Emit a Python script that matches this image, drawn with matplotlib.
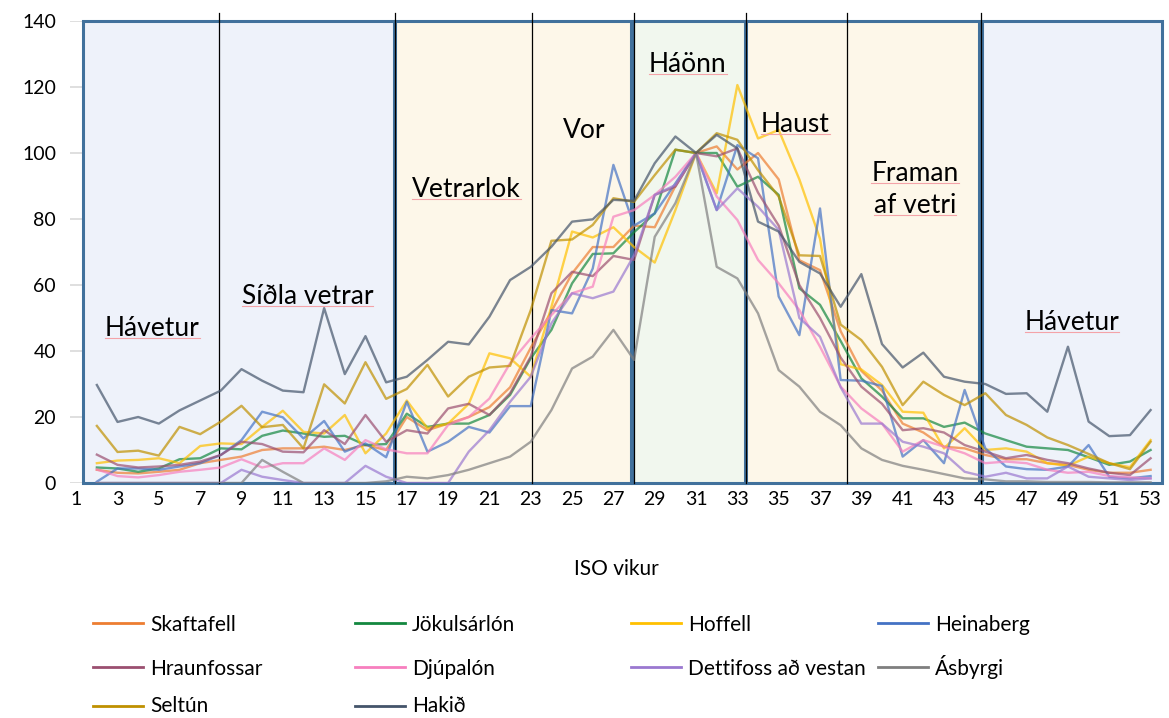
import matplotlib
matplotlib.use("Agg")
import matplotlib.pyplot as plt
from matplotlib.lines import Line2D
from matplotlib.patches import Rectangle
import numpy as np

# ─── Data (index: 100 = week 31) ─────────────────────────────────────────────
weeks = list(range(2, 54))

skaftafell = [4, 3.1, 2.9, 3.4, 4, 6, 7, 8, 10, 10.5, 10.5, 11, 10, 11.5, 10,
              20, 16, 18, 20, 23, 29, 41, 52, 63.5, 71.5, 71.5, 78,
              77.5, 90, 100, 102, 95, 100, 92, 67.5, 64.5, 46,
              34, 28, 18, 15.3, 11, 10.5, 8.5, 7.2, 7.2, 6, 5.5, 4, 3.1, 3.1, 4]
jokulsarlon = [4.7, 4.4, 3.4, 4.4, 7.2, 7.5, 10.5, 10.2, 14.3, 15.9, 15, 14, 14.3, 11.5, 11.8,
               21, 17, 18, 18, 20.6, 26.7, 37.8, 46.4, 60.5, 69.4, 69.6, 76,
               81.7, 101, 100, 100, 89.8, 92.8, 87.3, 59, 54, 43,
               31.7, 26.2, 19.6, 19.6, 17, 18.3, 15, 13, 11, 10.5, 10, 7.8, 5.5, 6.5, 10]
hoffell = [6, 6.8, 7, 7.5, 6, 11.2, 12, 11.8, 17, 21.9, 15.5, 15, 20.6, 9, 15,
           25, 16.6, 18, 24, 39.3, 37.8, 32.2, 53.4, 76.2, 74.4, 77.5, 71.5,
           66.8, 82.7, 100, 87.8, 120.6, 104.4, 107, 92, 74, 36,
           34.4, 29.7, 21.6, 21.3, 10.5, 16.6, 10, 10.5, 9.5, 6, 5.2, 8, 6, 4.8, 13]
heinaberg = [0.4, 4.4, 4.4, 4, 5, 6, 8.5, 13, 21.6, 19.9, 13.5, 18.8, 9.5, 12, 7.8,
             24.6, 9.5, 12.5, 17, 15.3, 23.3, 23.3, 52.4, 51.4, 65, 96.4, 78,
             81.7, 90.8, 100, 82.7, 102.4, 98.4, 56.5, 44.8, 83.2, 31.2,
             31, 29.4, 8, 13, 6, 28.2, 10.5, 5, 4.2, 4, 5, 11.5, 1.9, 1.4, 2.1]
hraunfossar = [8.6, 5.5, 4.7, 5, 5.5, 6.5, 8.5, 12.5, 11.8, 9.5, 9.3, 16, 11.8, 20.6, 12.5,
               16, 15, 22.6, 24, 20.6, 27.2, 38.3, 57.5, 64, 62.7, 68.8, 67.6,
               87.3, 89.8, 100, 99, 101.4, 88, 78, 60, 50, 38,
               29.2, 24, 16, 16.6, 15.3, 11.5, 9.5, 7.5, 8.5, 7, 6, 4.4, 3.1, 2.4, 7.5]
djupalon = [4.1, 2.1, 1.7, 2.4, 3.4, 4, 4.7, 7.2, 4.7, 6, 6, 10.5, 7, 13, 10.2,
            9, 9, 17.6, 20, 25.6, 36.3, 43.8, 50.9, 57.5, 59.5, 80.7, 82.7,
            87.3, 92.8, 100, 86.8, 79.7, 67.6, 60.5, 52.4, 41.3, 29.2,
            22.6, 18, 9.5, 13, 11, 9, 6, 6.5, 6, 4, 3.1, 3.4, 2.1, 1.7, 1.4]
dettifoss = [0, 0, 0, 0, 0, 0, 0, 4, 1.9, 0.9, 0, 0, 0, 5.2, 1.9,
             0, 0, 0, 9.5, 16, 24.6, 32.2, 48.4, 57.5, 56, 58, 69,
             87.3, 90.3, 100, 82.7, 89.3, 83.7, 76.7, 50, 44.3, 29,
             18, 18, 12.5, 11, 9, 3.4, 1.9, 3.1, 1.4, 1.4, 5, 1.9, 1.4, 0.9, 1.4]
asbyrgi = [0, 0, 0, 0, 0, 0, 0, 0, 7, 3.4, 0, 0, 0, 0, 0.5,
           1.9, 1.4, 2.4, 4, 6, 8, 12.5, 22.1, 34.7, 38.3, 46.4, 37.3,
           74.6, 84.8, 100, 65.5, 62, 51.4, 34.2, 29.2, 21.6, 17.5,
           10.5, 7, 5.2, 4, 2.7, 1.4, 1.1, 0.5, 0.5, 0.3, 0.3, 0.3, 0.2, 0.2, 0.2]
seltun = [17.3, 9.4, 9.8, 8.3, 17, 14.8, 18.6, 23.4, 16.9, 17.6, 10.5, 29.9, 24.1, 36.6, 25.5,
          28.5, 35.8, 26.2, 32.2, 35, 35.5, 52.4, 73.4, 73.8, 78.2, 86.3, 85.2,
          93.3, 101, 100, 106, 104, 94.8, 86.8, 69, 68.8, 48,
          43.3, 35.2, 23.6, 30.7, 26.7, 23.6, 27.2, 20.6, 17.6, 13.8, 11.5, 8.8, 6, 4.2, 12.5]
hakid = [29.7, 18.5, 20, 18, 22, 25, 28, 34.5, 31, 28, 27.5, 53, 33, 44.5, 30.5,
         32.2, 37.3, 42.8, 42, 50.4, 61.5, 65.5, 71.6, 79.2, 79.9, 85.8, 85.5,
         96.9, 105, 100, 105.5, 101.4, 79.2, 76.2, 67, 63.5, 53.4,
         63.3, 42.1, 35, 39.5, 32.2, 30.7, 30, 27, 27.2, 21.6, 41.3, 18.6, 14.2, 14.5, 22.1]

names = ["Skaftafell", "Jökulsárlón", "Hoffell", "Heinaberg", "Hraunfossar",
         "Djúpalón", "Dettifoss að vestan", "Ásbyrgi", "Seltún", "Hakið"]
series = [skaftafell, jokulsarlon, hoffell, heinaberg, hraunfossar,
          djupalon, dettifoss, asbyrgi, seltun, hakid]
colors = ["#ED7D31", "#13873F", "#FFC000", "#4472C4", "#9B4F70",
          "#F77FBE", "#9A78D0", "#7F7F7F", "#BF9000", "#44546A"]

# season periods: (start week, end week, fill colour)
periods = [(1.35, 16.38, "#EEF2FA"), (16.43, 27.84, "#FDF7E9"), (27.9, 33.37, "#F1F7EE"),
           (33.44, 44.69, "#FDF7E9"), (44.83, 53.54, "#EEF2FA")]
dividers = [7.92, 16.43, 23.06, 28.0, 33.4, 38.3, 44.8]
# (text, week, value, spell-check underline?)
labels = [("Hávetur", 4.68, 46.7, True), ("Síðla vetrar", 12.2, 56.4, True),
          ("Vetrarlok", 19.9, 89, True), ("Vor", 25.6, 106.7, False),
          ("Háönn", 30.6, 126.7, True), ("Haust", 35.8, 108.5, True),
          ("Framan", 41.6, 93.9, True), ("af vetri", 41.6, 84.2, True),
          ("Hávetur", 49.2, 48.5, True)]

# ─── Plot ────────────────────────────────────────────────────────────────────
plt.rcParams['font.family'] = ['Lato', 'DejaVu Sans']

fig = plt.figure(figsize=(11.69, 7.18), dpi=100)
ax = fig.add_axes([70 / 1169, 235 / 718, 1093 / 1169, 462 / 718])
ax.set_xlim(0.7, 53.6)
ax.set_ylim(0, 140)

for s, e, fc in periods:
    ax.add_patch(Rectangle((s, 0), e - s, 140, facecolor=fc, edgecolor="#41719C",
                           linewidth=2.2, zorder=1, clip_on=False))

ax.set_yticks(np.arange(0, 141, 20))
ax.set_xticks(range(1, 54, 2))
ax.grid(axis='y', color="#D9D9D9", linewidth=1.2, zorder=0.5)
ax.set_axisbelow(True)
for sp in ax.spines.values():
    sp.set_visible(False)
ax.tick_params(length=0, labelsize=14, colors="#000000")
ax.tick_params(axis='y', pad=10)
ax.tick_params(axis='x', pad=6)

for w in dividers:
    ax.plot([w, w], [0, 142.5], color="black", linewidth=0.9, zorder=3, clip_on=False)

for vals, col in zip(series, colors):
    ax.plot(weeks, vals, color=col, alpha=0.7, linewidth=1.7, zorder=4)

label_texts = []
for txt, x, y, ul in labels:
    t = ax.text(x, y, txt, ha='center', va='center', fontsize=19, zorder=5)
    if ul:
        label_texts.append(t)

ax.set_xlabel("ISO vikur", fontsize=15, labelpad=36.5)

# legend drawn by hand: 4 fixed-width columns, filled row by row
col_x = [93, 355, 631, 878]
line_y = [622.5, 666.7, 705.5]
base_y = [631, 675, 712]
W, H = 1169, 718
for i, (name, col) in enumerate(zip(names, colors)):
    r, c = divmod(i, 4)
    x0 = col_x[c]
    fig.add_artist(Line2D([x0 / W, (x0 + 50) / W], [1 - line_y[r] / H] * 2,
                          color=col, linewidth=2, transform=fig.transFigure))
    fig.text((x0 + 57) / W, 1 - base_y[r] / H, name, fontsize=15, va='baseline')

# spell-check squiggles under the season labels
fig.canvas.draw()
renderer = fig.canvas.get_renderer()
for t in label_texts:
    bb = t.get_window_extent(renderer)
    yb = bb.y0 + 3
    fig.add_artist(Line2D([bb.x0 / W, bb.x1 / W], [yb / H, yb / H], color="#F4A3A8",
                          linewidth=0.8, transform=fig.transFigure, zorder=6))

fig.savefig("out.png", dpi=100)
